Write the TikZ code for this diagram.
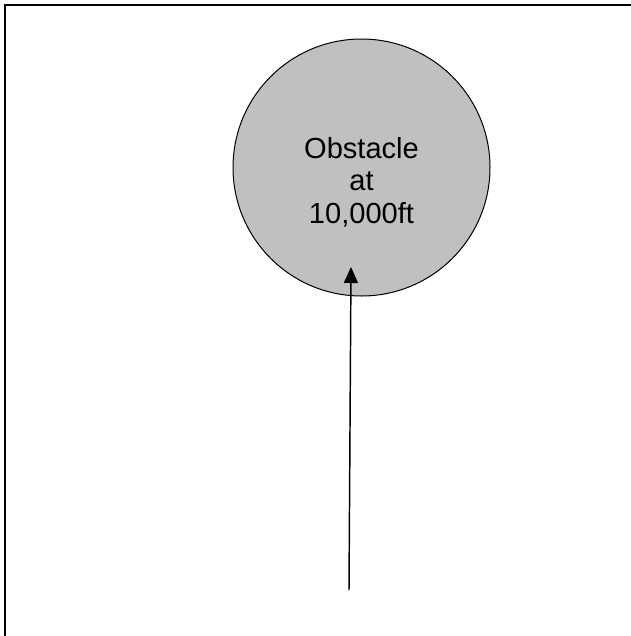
\documentclass[tikz,border=0pt]{standalone}
\usepackage{fontspec}
\setmainfont{Liberation Sans}
\usetikzlibrary{arrows.meta}
\begin{document}
\begin{tikzpicture}[x=0.75pt,y=-0.75pt,
  frameline/.style={line width=1.5pt,black},
  obstaclecircle/.style={circle,draw=black,line width=0.75pt,fill={rgb,255:red,192;green,192;blue,192},minimum size=192.75pt,inner sep=0pt},
  obstacletext/.style={align=center,font=\fontsize{21.8pt}{24.4pt}\selectfont,inner sep=0pt},
  arrowline/.style={line width=1.1pt,-{Triangle[width=10.5pt,length=12pt]}}]
\useasboundingbox (0,0) rectangle (631,636);
\fill[white] (0,0) rectangle (631,636);
\draw[frameline] (5,640) -- (5,5) -- (640,5);
\node[obstaclecircle] (obstacle) at (361.5,167.5) {};
\node[obstacletext,anchor=base] (label) at (361.5,223.3) {Obstacle\\at\\10,000ft};
\coordinate (start) at (349,590);
\coordinate (tip) at (351,267);
\draw[arrowline] (start) -- (tip);
\end{tikzpicture}
\end{document}
